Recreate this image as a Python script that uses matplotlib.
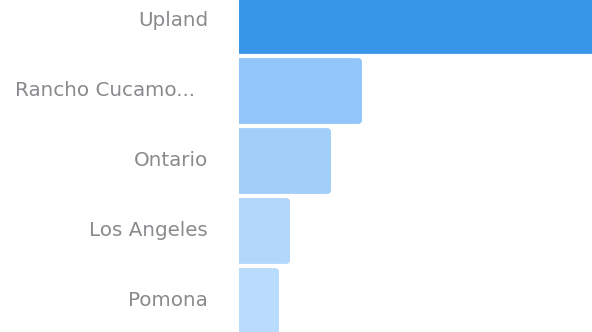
import matplotlib
matplotlib.use('Agg')
import matplotlib.pyplot as plt
from matplotlib.patches import FancyBboxPatch
from matplotlib import transforms

cities = ['Upland', 'Rancho Cucamo...', 'Ontario', 'Los Angeles', 'Pomona']
values = [400, 123, 92, 51, 40]
colors = ['#3896e8', '#92c5f9', '#a2cefa', '#b2d7fb', '#b9dbfc']

plt.rcParams['font.family'] = ['DejaVu Sans']

fig = plt.figure(figsize=(5.92, 3.32), dpi=100)
ax = fig.add_axes([239 / 592, 0, 1 - 239 / 592, 1])

pos = list(range(len(cities)))
bars = ax.barh(pos, values, height=0.94, color=colors)

# swap the square bars for rounded ones (radius ~4px)
r = 4
for b in bars:
    x, y = b.get_x(), b.get_y()
    w, h = b.get_width(), b.get_height()
    ax.add_patch(FancyBboxPatch((x - r, y), w + r, h,
                                boxstyle='round,pad=0,rounding_size=%d' % r,
                                mutation_aspect=1 / 70,
                                facecolor=b.get_facecolor(), edgecolor='none'))
    b.set_visible(False)

ax.set_xlim(0, 353)
ax.set_ylim(-0.3 + 332 / 70, -0.3)
ax.axis('off')

lbl_tr = transforms.offset_copy(ax.get_yaxis_transform(), fig=fig,
                                x=-31, y=-5, units='dots')
for p, c in zip(pos, cities):
    # truncated names sit a little further left in the original
    if c.endswith('...'):
        c = c + '  '
    ax.text(0, p, c, transform=lbl_tr, ha='right', va='baseline',
            fontsize=14.3, color='#8a8a8e')

fig.savefig('out.png', dpi=100)
